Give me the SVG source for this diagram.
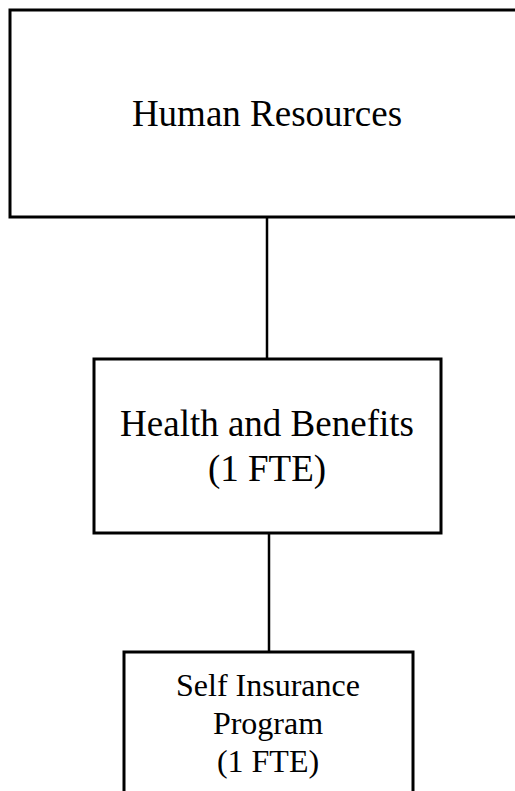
<svg xmlns="http://www.w3.org/2000/svg" width="515" height="791" viewBox="0 0 515 791">
<style>
.box{fill:#fff;stroke:#000;stroke-width:3}
.t{font-family:"Liberation Serif","Times New Roman",serif;fill:#000;text-anchor:middle}
.c{stroke:#000;stroke-width:2.5;fill:none}
</style>
<rect width="515" height="791" fill="#fff"/>
<g id="connectors">
<line class="c" x1="267" y1="218" x2="267" y2="359"/>
<line class="c" x1="269" y1="533" x2="269" y2="652"/>
</g>
<g id="human-resources">
<rect class="box" x="10" y="10" width="514" height="207"/>
<text class="t" x="267" y="126" font-size="37">Human Resources</text>
</g>
<g id="health-benefits">
<rect class="box" x="94" y="359" width="347" height="174"/>
<text class="t" x="267" y="436" font-size="37">Health and Benefits</text>
<text class="t" x="267" y="481" font-size="37">(1 FTE)</text>
</g>
<g id="self-insurance">
<rect class="box" x="124" y="652" width="289" height="160"/>
<text class="t" x="268" y="696" font-size="32">Self Insurance</text>
<text class="t" x="268" y="734" font-size="32">Program</text>
<text class="t" x="268" y="772" font-size="32">(1 FTE)</text>
</g>
</svg>
